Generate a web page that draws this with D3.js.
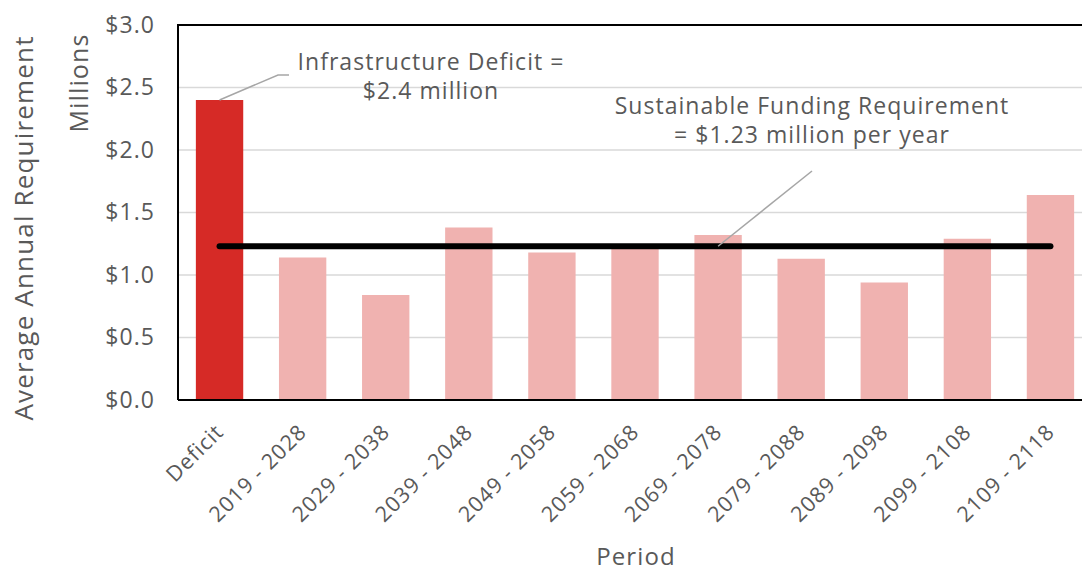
<!DOCTYPE html>
<html>
<head>
<meta charset="utf-8">
<script src="https://cdn.jsdelivr.net/npm/d3@7/dist/d3.min.js"></script>
<style>
  html, body { margin: 0; padding: 0; background: #fff; }
  svg { display: block; font-family: "Open Sans", "Noto Sans", sans-serif; }
  text { fill: #595959; letter-spacing: 0.045em; }
</style>
</head>
<body>
<svg id="chart" width="1082" height="573"></svg>
<script>
// Average annual renewal requirement by ten-year period (millions of dollars)
const periods = ["Deficit", "2019 - 2028", "2029 - 2038", "2039 - 2048", "2049 - 2058",
  "2059 - 2068", "2069 - 2078", "2079 - 2088", "2089 - 2098", "2099 - 2108", "2109 - 2118"];
const requirement = [2.4, 1.14, 0.84, 1.38, 1.18, 1.22, 1.32, 1.13, 0.94, 1.29, 1.64];
const sustainableFunding = 1.23;
const yTicks = [0, 0.5, 1.0, 1.5, 2.0, 2.5, 3.0];
const deficitNote = ["Infrastructure Deficit =", "$2.4 million"];
const fundingNote = ["Sustainable Funding Requirement", "= $1.23 million per year"];

const svg = d3.select("#chart");
const plot = { left: 178, top: 25, right: 1092, bottom: 400 };

const x = d3.scaleBand()
  .domain(periods)
  .range([plot.left, plot.right])
  .paddingInner(0.43)
  .paddingOuter(0.215);

const y = d3.scaleLinear()
  .domain([0, 3])
  .range([plot.bottom, plot.top]);

const cx = d => x(d) + x.bandwidth() / 2;

// Horizontal gridlines
svg.append("g")
  .selectAll("line")
  .data(yTicks.filter(t => t > 0 && t < 3))
  .join("line")
  .attr("x1", plot.left).attr("x2", plot.right)
  .attr("y1", d => y(d)).attr("y2", d => y(d))
  .attr("stroke", "#d9d9d9")
  .attr("stroke-width", 1.6);

// Bars
svg.append("g")
  .selectAll("rect")
  .data(periods.map((p, i) => ({ p, v: requirement[i] })))
  .join("rect")
  .attr("x", d => x(d.p))
  .attr("width", x.bandwidth())
  .attr("y", d => y(d.v))
  .attr("height", d => y(0) - y(d.v))
  .attr("fill", (d, i) => i === 0 ? "#d62a26" : "#f0b2b0");

// Plot frame: left and top edges, plus the baseline
svg.append("path")
  .attr("d", `M${plot.left},${plot.bottom}V${plot.top}H${plot.right}`)
  .attr("fill", "none")
  .attr("stroke", "#000")
  .attr("stroke-width", 2);
svg.append("line")
  .attr("x1", plot.left).attr("x2", plot.right)
  .attr("y1", y(0)).attr("y2", y(0))
  .attr("stroke", "#000")
  .attr("stroke-width", 2);

// Sustainable funding level across all periods
svg.append("line")
  .attr("x1", cx(periods[0]))
  .attr("x2", cx(periods[periods.length - 1]))
  .attr("y1", y(sustainableFunding))
  .attr("y2", y(sustainableFunding))
  .attr("stroke", "#000")
  .attr("stroke-width", 6)
  .attr("stroke-linecap", "round");

// Y axis tick labels
const yAxis = d3.axisLeft(y)
  .tickValues(yTicks)
  .tickFormat(d => "$" + d3.format(".1f")(d))
  .tickSize(0)
  .tickPadding(0);
const gy = svg.append("g")
  .attr("transform", "translate(155,0)")
  .call(yAxis);
gy.select(".domain").remove();
gy.selectAll("text")
  .attr("fill", "#595959")
  .style("font-size", "23px")
  .style("font-family", "'Open Sans', sans-serif");

// X axis tick labels, rotated
const xAxis = d3.axisBottom(x).tickSize(0).tickPadding(0);
const gx = svg.append("g")
  .attr("transform", "translate(0,428)")
  .call(xAxis);
gx.select(".domain").remove();
gx.selectAll("text")
  .attr("fill", "#595959")
  .style("font-size", "21.5px")
  .style("font-family", "'Open Sans', sans-serif")
  .attr("text-anchor", "end")
  .attr("y", 0)
  .attr("dy", "0.35em")
  .attr("transform", "rotate(-45)");

// Axis titles
svg.append("text")
  .attr("transform", "translate(33,228) rotate(-90)")
  .attr("text-anchor", "middle")
  .style("font-size", "26px")
  .text("Average Annual Requirement");
svg.append("text")
  .attr("transform", "translate(88,83) rotate(-90)")
  .attr("text-anchor", "middle")
  .style("font-size", "25px")
  .text("Millions");
svg.append("text")
  .attr("x", 636).attr("y", 565)
  .attr("text-anchor", "middle")
  .style("font-size", "24px")
  .text("Period");

// Callout: infrastructure deficit
svg.append("polyline")
  .attr("points", [[cx(periods[0]), y(requirement[0])], [278, 75], [289, 75]].join(" "))
  .attr("fill", "none")
  .attr("stroke", "#a6a6a6")
  .attr("stroke-width", 1.5);
svg.append("text")
  .attr("text-anchor", "middle")
  .style("font-size", "23px")
  .selectAll("tspan")
  .data(deficitNote)
  .join("tspan")
  .attr("x", 431)
  .attr("y", (d, i) => 70 + i * 29)
  .text(d => d);

// Callout: sustainable funding requirement
svg.append("line")
  .attr("x1", 812).attr("y1", 171)
  .attr("x2", cx(periods[6])).attr("y2", y(sustainableFunding))
  .attr("stroke", "#a6a6a6")
  .attr("stroke-width", 1.5);
svg.append("text")
  .attr("text-anchor", "middle")
  .style("font-size", "23px")
  .selectAll("tspan")
  .data(fundingNote)
  .join("tspan")
  .attr("x", 812)
  .attr("y", (d, i) => 114 + i * 29)
  .text(d => d);
</script>
</body>
</html>
